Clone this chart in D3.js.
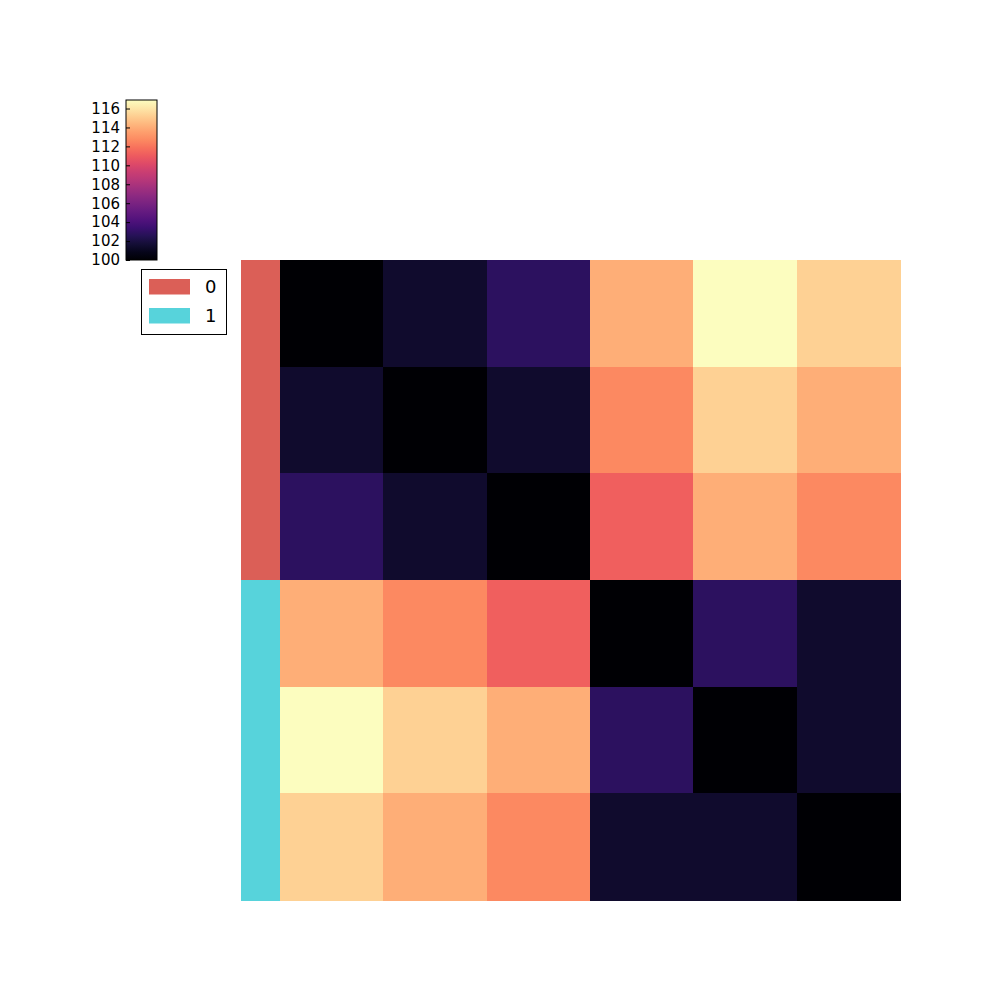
<!DOCTYPE html>
<html><head><meta charset="utf-8">
<script src="https://cdn.jsdelivr.net/npm/d3@7"></script>
<style>body{margin:0;background:#fff}</style>
</head><body>
<script>
const labels = [0, 0, 0, 1, 1, 1];
const rows = ["r0","r1","r2","r3","r4","r5"];
const cols = ["c0","c1","c2","c3","c4","c5"];
const values = [
  [100.0, 101.4, 102.8, 114.0, 116.9, 115.3],
  [101.4, 100.0, 101.4, 112.7, 115.3, 114.0],
  [102.8, 101.4, 100.0, 111.2, 114.0, 112.7],
  [114.0, 112.7, 111.2, 100.0, 102.8, 101.4],
  [116.9, 115.3, 114.0, 102.8, 100.0, 101.4],
  [115.3, 114.0, 112.7, 101.4, 101.4, 100.0]
];
const cbTicks = [100,102,104,106,108,110,112,114,116];
const legendKeys = ["0","1"];
const labelColors = ["#db5f57", "#57d3db"];

const svg = d3.select("body").append("svg").attr("width",1000).attr("height",1000);
const x = d3.scaleBand().domain(cols).range([280,900]);
const y = d3.scaleBand().domain(rows).range([260,900]);
const vmin = 100, vmax = 116.9;
const color = d3.scaleSequential(d3.interpolateMagma).domain([vmin,vmax]);

const cells = [];
values.forEach((r,i)=>r.forEach((v,j)=>cells.push({r:rows[i],c:cols[j],v})));
svg.append("g").selectAll("rect").data(cells).join("rect")
  .attr("x",d=>x(d.c)).attr("y",d=>y(d.r))
  .attr("width",x.bandwidth()+0.5).attr("height",y.bandwidth()+0.5)
  .attr("fill",d=>color(d.v)).attr("shape-rendering","crispEdges");

// row colors
svg.append("g").selectAll("rect").data(labels).join("rect")
  .attr("x",241).attr("width",39)
  .attr("y",(d,i)=>y(rows[i])).attr("height",y.bandwidth()+0.5)
  .attr("fill",d=>labelColors[d]).attr("shape-rendering","crispEdges");

// colorbar
const cbX=126, cbW=31, cbTop=100, cbBot=260;
const cy = d3.scaleLinear().domain([vmin,vmax]).range([cbBot,cbTop]);
const defs = svg.append("defs");
const grad = defs.append("linearGradient").attr("id","cbg").attr("x1",0).attr("y1",1).attr("x2",0).attr("y2",0);
d3.range(0,1.0001,0.05).forEach(t=>grad.append("stop").attr("offset",t).attr("stop-color",d3.interpolateMagma(t)));
svg.append("rect").attr("x",cbX).attr("y",cbTop).attr("width",cbW).attr("height",cbBot-cbTop)
  .attr("fill","url(#cbg)").attr("stroke","#000").attr("stroke-width",1);
const cbAxis = d3.axisLeft(cy).tickValues(cbTicks).tickSize(-4).tickPadding(6);
const ga = svg.append("g").attr("transform",`translate(${cbX},0)`).call(cbAxis);
ga.select(".domain").remove();
ga.selectAll("text").attr("font-family","DejaVu Sans").attr("font-size",15).attr("fill","#000");
ga.selectAll("line").attr("stroke","#000");

// legend
const lg = svg.append("g");
lg.append("rect").attr("x",141.5).attr("y",269.5).attr("width",85).attr("height",65)
  .attr("fill","#fff").attr("stroke","#000").attr("stroke-width",1);
legendKeys.forEach((k,i)=>{
  lg.append("rect").attr("x",149).attr("y",279+i*29).attr("width",41).attr("height",15.5).attr("fill",labelColors[i]);
  lg.append("text").attr("x",205).attr("y",287+i*28.5).attr("dy","0.35em")
    .attr("font-family","DejaVu Sans").attr("font-size",18).text(k);
});
</script>
</body></html>
